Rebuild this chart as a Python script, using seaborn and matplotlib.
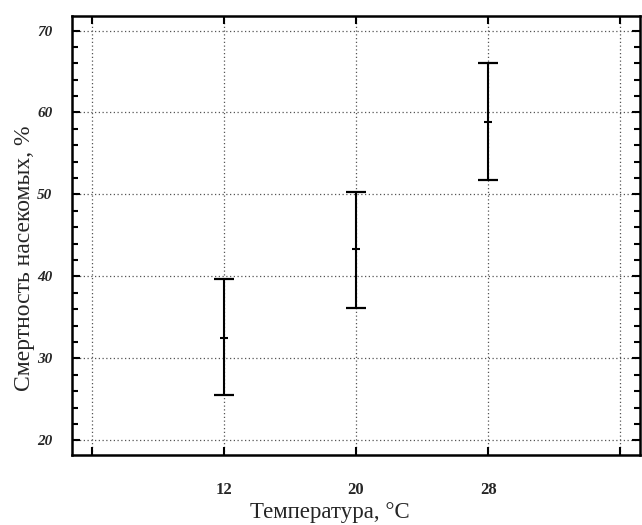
import numpy as np
import pandas as pd
import matplotlib
matplotlib.use("Agg")
import matplotlib.pyplot as plt
import seaborn as sns
from matplotlib.ticker import MultipleLocator

# -------------------------------
# Data
# -------------------------------
temps = [12, 20, 28]
means = [32.5, 43.3, 58.8]
lows = [25.5, 36.2, 51.8]
highs = [39.7, 50.3, 66.0]
x_ticks = [4, 12, 20, 28, 36]
x_labels = ["", "12", "20", "28", ""]
y_ticks = [20, 30, 40, 50, 60, 70]

df = pd.DataFrame({"temp": temps, "mean": means, "low": lows, "high": highs})

sns.set_style("ticks")
plt.rcParams["font.family"] = ["Liberation Serif", "DejaVu Serif"]

fig = plt.figure(figsize=(6.42, 5.25), dpi=100)
ax = fig.add_axes([0.112, 0.133, 0.885, 0.837])

# error bars
yerr = np.array([df["mean"] - df["low"], df["high"] - df["mean"]])
ax.errorbar(df["temp"], df["mean"], yerr=yerr, fmt="none", ecolor="black",
            elinewidth=1.5, capsize=7, capthick=1.6, zorder=3)
# mean marks
sns.scatterplot(data=df, x="temp", y="mean", marker="_", s=40, color="black",
                linewidth=1.5, ax=ax, zorder=4, legend=False)

ax.set_xlim(2.8, 37.2)
ax.set_ylim(18.2, 71.8)
ax.set_xticks(x_ticks)
ax.set_xticklabels(x_labels, fontsize=12, fontweight="bold")
ax.set_yticks(y_ticks)
ax.set_yticklabels([str(v) for v in y_ticks], fontsize=11, fontweight="bold",
                   style="italic")
ax.yaxis.set_minor_locator(MultipleLocator(2))

ax.grid(True, which="major", color="#555555", linestyle=(0, (1, 2)), linewidth=0.9)
ax.tick_params(which="both", direction="in", top=True, right=True,
               width=1.5, color="black")
ax.tick_params(which="major", length=6, pad=14)
ax.tick_params(which="minor", length=4)
ax.tick_params(axis="x", pad=19)

for s in ax.spines.values():
    s.set_linewidth(1.8)
    s.set_color("black")

ax.set_xlabel("Температура, °C", fontsize=16.5)
ax.set_ylabel("Смертность насекомых, %", fontsize=17)
ax.xaxis.set_label_coords(0.454, -0.13)
ax.xaxis.label.set_va("center")
ax.yaxis.set_label_coords(-0.083, 0.449)
ax.yaxis.label.set_va("center")

fig.savefig("out.png", dpi=100)
